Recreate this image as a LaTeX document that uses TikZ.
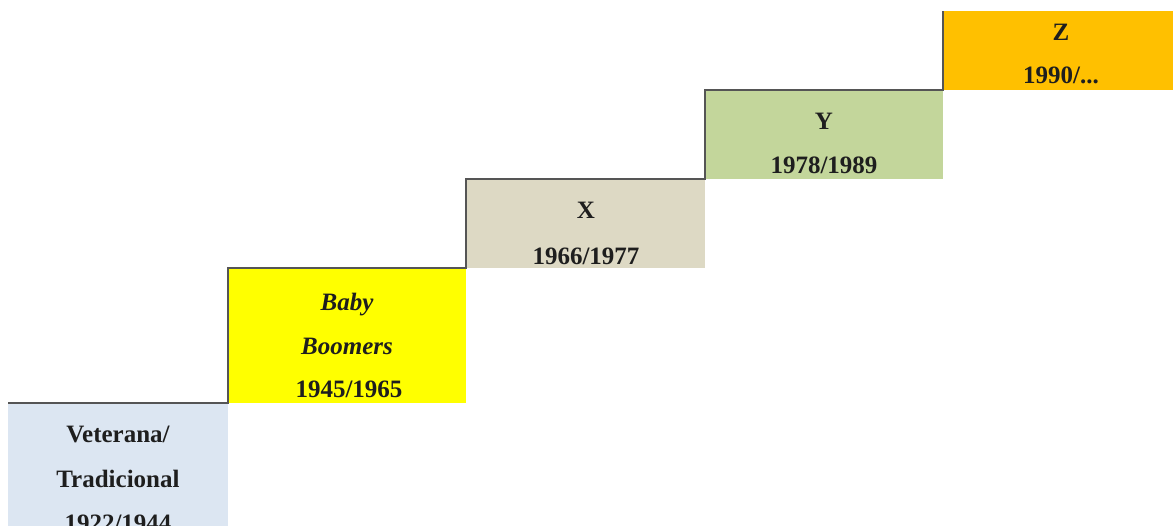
\documentclass[tikz,border=0pt]{standalone}
\usepackage{fontspec}
\setmainfont{Liberation Serif}
\definecolor{vetfill}{HTML}{DCE6F2}
\definecolor{bbfill}{HTML}{FFFF00}
\definecolor{xfill}{HTML}{DDD9C4}
\definecolor{yfill}{HTML}{C3D69B}
\definecolor{zfill}{HTML}{FFC000}
\definecolor{stairgray}{HTML}{555555}
\definecolor{ink}{HTML}{1E1E1E}
\begin{document}
\begin{tikzpicture}[x=1pt,y=-1pt,
  gen/.style={rectangle,anchor=north west,inner sep=0pt,outer sep=0pt},
  lbl/.style={anchor=base,inner sep=0pt,text=ink,
    font=\fontsize{25}{30}\selectfont\bfseries},
  stair/.style={draw=stairgray,line width=1.5pt,line join=miter}]
\useasboundingbox (0,0) rectangle (1173,525);
\clip (0,0) rectangle (1173,525);

% generation blocks, one step per generation
\node[gen,fill=vetfill,minimum width=220pt,minimum height=135pt] (vet) at (8,403) {};
\node[gen,fill=bbfill,minimum width=238pt,minimum height=135pt] (bb) at (228,268) {};
\node[gen,fill=xfill,minimum width=239pt,minimum height=89pt] (gx) at (466,179) {};
\node[gen,fill=yfill,minimum width=238pt,minimum height=89pt] (gy) at (705,90) {};
\node[gen,fill=zfill,minimum width=230pt,minimum height=79pt] (gz) at (943,11) {};

% staircase outline along the tops of the blocks
\draw[stair] (vet.north west) -- (vet.north east) -- (bb.north west)
  -- (bb.north east) -- (gx.north west) -- (gx.north east)
  -- (gy.north west) -- (gy.north east) -- (gz.north west);

% labels
\node[lbl] (vet1) at (118,442) {Veterana/};
\node[lbl] (vet2) at (118,487) {Tradicional};
\node[lbl] (vet3) at (118,531) {1922/1944};

\node[lbl,font=\fontsize{25}{30}\selectfont\bfseries\itshape] (bb1) at (347,310) {Baby};
\node[lbl,font=\fontsize{25}{30}\selectfont\bfseries\itshape] (bb2) at (347,354) {Boomers};
\node[lbl] (bb3) at (349,397) {1945/1965};

\node[lbl] (x1) at (586,218) {X};
\node[lbl] (x2) at (586,264) {1966/1977};

\node[lbl] (y1) at (824,129) {Y};
\node[lbl] (y2) at (824,173) {1978/1989};

\node[lbl] (z1) at (1061,40) {Z};
\node[lbl] (z2) at (1061,83) {1990/...};
\end{tikzpicture}
\end{document}
